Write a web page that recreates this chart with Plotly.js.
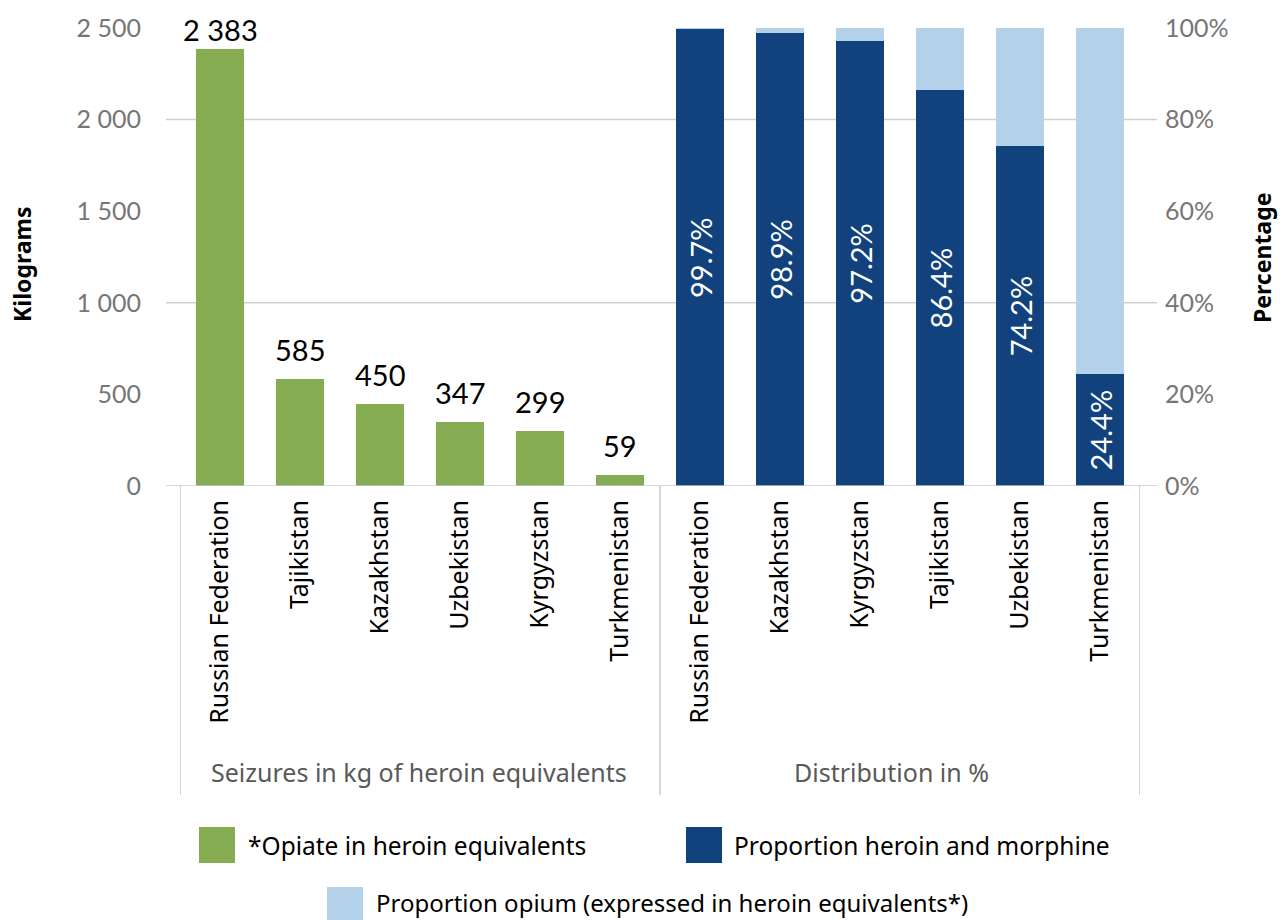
<!DOCTYPE html>
<html>
<head>
<meta charset="utf-8">
<script src="https://cdn.plot.ly/plotly-3.0.1.min.js"></script>
<style>html,body{margin:0;padding:0;background:#fff;}#chart{width:1287px;height:920px;}</style>
</head>
<body>
<div id="chart"></div>
<script>
// ---- data ----
const seizureCountries = ["Russian Federation", "Tajikistan", "Kazakhstan", "Uzbekistan", "Kyrgyzstan", "Turkmenistan"];
const seizureKg = [2383, 585, 450, 347, 299, 59];
const distCountries = ["Russian Federation", "Kazakhstan", "Kyrgyzstan", "Tajikistan", "Uzbekistan", "Turkmenistan"];
const heroinPct = [99.7, 98.9, 97.2, 86.4, 74.2, 24.4];
const opiumPct = [0.3, 1.1, 2.8, 13.6, 25.8, 75.6];
const groupLabels = ["Seizures in kg of heroin equivalents", "Distribution in %"];
const legendLabels = ["*Opiate in heroin equivalents", "Proportion heroin and morphine", "Proportion opium (expressed in heroin equivalents*)"];
const leftTicks = [0, 500, 1000, 1500, 2000, 2500];
const rightTicks = [0, 20, 40, 60, 80, 100];

const GREEN = "#86ac51", DARK = "#11427d", LIGHT = "#b4d2ea";
const NUMFONT = "Lato, sans-serif";
const TXTFONT = "'Noto Sans', 'Open Sans', sans-serif";

const allCats = seizureCountries.concat(distCountries);
const xLeft = seizureCountries.map((_, i) => i);
const xRight = distCountries.map((_, i) => i + seizureCountries.length);

const traces = [
  {
    type: "bar", x: xLeft, y: seizureKg, yaxis: "y", marker: {color: GREEN},
    width: 0.6, showlegend: false, hoverinfo: "skip"
  },
  {
    type: "bar", x: xRight, y: heroinPct, yaxis: "y2", marker: {color: DARK},
    width: 0.6, texttemplate: "%{y:.1f}%", textposition: "inside", insidetextanchor: "middle",
    textangle: -90, constraintext: "none",
    textfont: {family: NUMFONT, size: 29, color: "#fff"}, showlegend: false, hoverinfo: "skip"
  },
  {
    type: "bar", x: xRight, y: opiumPct, yaxis: "y2", marker: {color: LIGHT},
    width: 0.6, texttemplate: "", showlegend: false, hoverinfo: "skip"
  }
];

// pixel -> paper helpers (plot area 180..1140 x 28..486)
const L = 180, R = 1140, T = 28, B = 486;
const px = p => (p - L) / (R - L);
const py = p => (B - p) / (B - T);

const shapes = [];
[1000, 2000].forEach(v => shapes.push({type: "line", xref: "paper", yref: "y", x0: px(166), x1: px(1157), y0: v, y1: v, line: {color: "#d0d0d0", width: 1.5}, layer: "below"}));
shapes.push({type: "line", xref: "paper", yref: "y", x0: px(166), x1: px(1157), y0: 0, y1: 0, line: {color: "#c8c8c8", width: 1.5}, layer: "above"});
[-0.5, 5.5, 11.5].forEach(x => shapes.push({type: "line", xref: "x", yref: "paper", x0: x, x1: x, y0: 0, y1: py(795), line: {color: "#c8c8c8", width: 1.5}}));
const sw = [[199, 827, GREEN], [686, 827, DARK], [327, 887, LIGHT]];
sw.forEach(s => shapes.push({type: "rect", xref: "paper", yref: "paper", x0: px(s[0]), x1: px(s[0] + 36), y0: py(s[1]), y1: py(s[1] + 36), fillcolor: s[2], line: {width: 0}}));

const ann = (o) => Object.assign({showarrow: false, xanchor: "center", yanchor: "middle"}, o);
const fmtKg = v => String(v).replace(/\B(?=(\d{3})+(?!\d))/g, " ");
const annotations = [
  ann({xref: "paper", yref: "paper", x: px(22), y: py(265), text: "<b>Kilograms</b>", textangle: -90, font: {family: TXTFONT, size: 23, color: "#000"}}),
  ann({xref: "paper", yref: "paper", x: px(1262), y: py(258), text: "<b>Percentage</b>", textangle: -90, font: {family: TXTFONT, size: 23, color: "#000"}}),
  ann({xref: "paper", yref: "paper", x: px(419), y: py(772), text: groupLabels[0], font: {family: TXTFONT, size: 25, color: "#595959"}}),
  ann({xref: "paper", yref: "paper", x: px(891), y: py(772), text: groupLabels[1], font: {family: TXTFONT, size: 25, color: "#595959"}}),
  ann({xref: "paper", yref: "paper", x: px(246), y: py(845), xanchor: "left", text: legendLabels[0], font: {family: TXTFONT, size: 24.5, color: "#000"}}),
  ann({xref: "paper", yref: "paper", x: px(732), y: py(845), xanchor: "left", text: legendLabels[1], font: {family: TXTFONT, size: 24.5, color: "#000"}}),
  ann({xref: "paper", yref: "paper", x: px(374), y: py(903), xanchor: "left", text: legendLabels[2], font: {family: TXTFONT, size: 24, color: "#000"}})
];
// value labels above green bars, positioned by the data coordinates
seizureKg.forEach((v, i) => annotations.push({
  xref: "x", yref: "y", x: xLeft[i], y: v, text: fmtKg(v), showarrow: false,
  xanchor: "center", yanchor: "bottom", yshift: i === 0 ? 0 : 10,
  font: {family: NUMFONT, size: 29, color: "#000"}
}));

const layout = {
  width: 1287, height: 920,
  margin: {l: L, r: 1287 - R, t: T, b: 920 - B, pad: 0},
  paper_bgcolor: "#fff", plot_bgcolor: "#fff",
  separators: ". ",
  barmode: "stack",
  showlegend: false,
  xaxis: {
    range: [-0.5, 11.5], tickmode: "array", tickvals: allCats.map((_, i) => i), ticktext: allCats,
    tickangle: -90, showgrid: false, zeroline: false, showline: false, ticks: "",
    ticklabelstandoff: 8,
    tickfont: {family: TXTFONT, size: 25, color: "#000"}, fixedrange: true
  },
  yaxis: {
    range: [0, 2500], tickmode: "array", tickvals: leftTicks, tickformat: ",",
    showgrid: false, zeroline: false, showline: false, ticks: "", ticklabelstandoff: 38,
    tickfont: {family: NUMFONT, size: 25, color: "#767676"}
  },
  yaxis2: {
    range: [0, 100], overlaying: "y", side: "right", tickmode: "array", tickvals: rightTicks,
    ticktext: rightTicks.map(v => v + "%"),
    showgrid: false, zeroline: false, showline: false, ticks: "", ticklabelstandoff: 24,
    tickfont: {family: NUMFONT, size: 25, color: "#767676"}
  },
  shapes: shapes,
  annotations: annotations
};

Plotly.newPlot("chart", traces, layout, {displayModeBar: false, staticPlot: true});
</script>
</body>
</html>
